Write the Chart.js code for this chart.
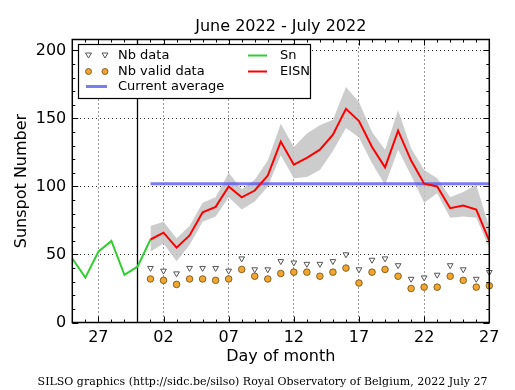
<!DOCTYPE html>
<html>
<head>
<meta charset="utf-8">
<title>Sunspot Number June 2022 - July 2022</title>
<script src="https://cdn.jsdelivr.net/npm/chart.js@4.4.0/dist/chart.umd.min.js"></script>
<style>
    html, body { margin: 0; padding: 0; background: #fff; }
    #wrap { width: 515px; height: 390px; position: relative; }
</style>
</head>
<body>
<div id="wrap"><canvas id="sunspot-chart"></canvas></div>
<script>
// x categories: June 25 .. July 27, 2022
const dayLabels = ['25', '26', '27', '28', '29', '30',
    '01', '02', '03', '04', '05', '06', '07', '08', '09', '10',
    '11', '12', '13', '14', '15', '16', '17', '18', '19', '20',
    '21', '22', '23', '24', '25', '26', '27'];
const monthBoundary = 5;          // index of June 30
const juneGap = [null, null, null, null, null, null];  // June 25-30 have no EISN

// Sn (green), June 25 .. July 1
const snValues = [47, 33, 52, 60, 35, 41, 61];

// EISN, July 1 .. July 27
const eisnValues = [61, 66, 55, 64, 81, 85, 100, 92, 97, 108, 133, 116, 121, 127, 138,
    157, 148, 129, 114, 141, 119, 102, 100, 84, 86, 83, 60];
const eisnLower = [52, 58, 45, 57, 74, 78, 92, 83, 89, 100, 123, 106, 107, 112, 126,
    143, 136, 117, 101, 127, 108, 88, 95, 77, 78, 77, 55];
const eisnUpper = [71, 74, 62, 71, 88, 92, 110, 98, 105, 119, 146, 129, 139, 145, 149,
    173, 162, 140, 127, 156, 128, 112, 106, 92, 96, 101, 70];

// number of stations, July 1 .. July 27
const nbData = [40, 38, 36, 40, 40, 40, 38, 47, 39, 39, 45, 44, 43, 43, 45,
    50, 39, 46, 47, 42, 32, 33, 35, 42, 39, 32, 37];
const nbValid = [32, 31, 28, 32, 32, 31, 32, 39, 34, 32, 36, 37, 37, 34, 37,
    40, 29, 37, 39, 34, 25, 26, 26, 34, 31, 26, 27];

const currentAverage = 102;
const yTickLabels = [0, 50, 100, 150, 200];

const FONT = "'DejaVu Sans', sans-serif";

function julySeries(values) {
    return juneGap.concat(values);
}

function isMajorDay(i) {
    return i % 5 === 2;
}

// matplotlib-like inward ticks on all four sides, frame, month boundary
const framePlugin = {
    id: 'frame',
    beforeDatasetsDraw(chart) {
        const { ctx, chartArea: a, scales: { x } } = chart;
        const bx = Math.round(x.getPixelForValue(monthBoundary)) + 0.5;
        ctx.save();
        ctx.strokeStyle = '#000';
        ctx.lineWidth = 1.3;
        ctx.beginPath();
        ctx.moveTo(bx, a.top);
        ctx.lineTo(bx, a.bottom);
        ctx.stroke();
        ctx.restore();
    },
    afterDraw(chart) {
        const { ctx, chartArea: a, scales: { x, y } } = chart;
        ctx.save();
        ctx.strokeStyle = '#000';
        ctx.lineWidth = 1;
        ctx.beginPath();
        for (let i = 0; i < dayLabels.length; i++) {
            const px = Math.round(x.getPixelForValue(i)) + 0.5;
            const len = isMajorDay(i) ? 6 : 3;
            ctx.moveTo(px, a.bottom); ctx.lineTo(px, a.bottom - len);
            ctx.moveTo(px, a.top); ctx.lineTo(px, a.top + len);
        }
        for (let v = 0; v <= 200; v += 10) {
            const py = Math.round(y.getPixelForValue(v)) + 0.5;
            const len = v % 50 === 0 ? 6 : 3;
            ctx.moveTo(a.left, py); ctx.lineTo(a.left + len, py);
            ctx.moveTo(a.right, py); ctx.lineTo(a.right - len, py);
        }
        ctx.stroke();

        ctx.lineWidth = 1.5;
        ctx.strokeRect(a.left, a.top, a.right - a.left, a.bottom - a.top);

        // footer
        ctx.fillStyle = '#000';
        ctx.font = "11px 'DejaVu Serif', serif";
        ctx.textAlign = 'center';
        ctx.textBaseline = 'middle';
        ctx.fillText('SILSO graphics (http://sidc.be/silso) Royal Observatory of Belgium, 2022 July 27', 262.5, 382);
        ctx.restore();
    }
};

// two column legend in the upper left corner
const legendPlugin = {
    id: 'siloLegend',
    afterDraw(chart) {
        const { ctx } = chart;
        ctx.save();
        ctx.fillStyle = '#fff';
        ctx.fillRect(78.5, 44.5, 232, 54);
        ctx.strokeStyle = '#000';
        ctx.lineWidth = 1.2;
        ctx.strokeRect(78.5, 44.5, 232, 54);

        // triangles
        ctx.fillStyle = '#fff';
        ctx.strokeStyle = '#555';
        ctx.lineWidth = 1;
        [88.5, 105].forEach(cx => {
            ctx.beginPath();
            ctx.moveTo(cx - 3, 53);
            ctx.lineTo(cx + 3, 53);
            ctx.lineTo(cx, 58);
            ctx.closePath();
            ctx.fill();
            ctx.stroke();
        });
        // circles
        ctx.fillStyle = '#f2a630';
        ctx.strokeStyle = '#6b4a10';
        ctx.lineWidth = 0.8;
        [88.5, 105].forEach(cx => {
            ctx.beginPath();
            ctx.arc(cx, 71.5, 3, 0, Math.PI * 2);
            ctx.fill();
            ctx.stroke();
        });
        // lines
        const line = (x1, x2, yy, color, w) => {
            ctx.strokeStyle = color;
            ctx.lineWidth = w;
            ctx.beginPath();
            ctx.moveTo(x1, yy);
            ctx.lineTo(x2, yy);
            ctx.stroke();
        };
        line(86, 107, 86.5, 'rgba(90,90,240,0.8)', 3);
        line(248, 267, 55.5, '#33cc33', 2);
        line(248, 267, 71.5, '#ff0000', 2);

        ctx.fillStyle = '#000';
        ctx.font = '13px ' + FONT;
        ctx.textBaseline = 'middle';
        ctx.textAlign = 'left';
        ctx.fillText('Nb data', 118, 55.5);
        ctx.fillText('Nb valid data', 118, 71.5);
        ctx.fillText('Current average', 118, 87);
        ctx.fillText('Sn', 280, 55.5);
        ctx.fillText('EISN', 280, 71.5);
        ctx.restore();
    }
};

const ctx = document.getElementById('sunspot-chart');

new Chart(ctx, {
    type: 'line',
    data: {
        labels: dayLabels,
        datasets: [
            {
                label: 'Nb data',
                data: julySeries(nbData),
                showLine: false,
                pointStyle: 'triangle',
                rotation: 180,
                pointRadius: 3.3,
                backgroundColor: '#fff',
                borderColor: '#555',
                pointBorderWidth: 1,
                order: 0
            },
            {
                label: 'Nb valid data',
                data: julySeries(nbValid),
                showLine: false,
                pointStyle: 'circle',
                pointRadius: 3.3,
                backgroundColor: '#f2a630',
                borderColor: '#6b4a10',
                pointBorderWidth: 0.8,
                order: 0
            },
            {
                label: 'Current average',
                data: julySeries(eisnValues.map(() => currentAverage)),
                borderColor: 'rgba(90,90,240,0.8)',
                borderWidth: 3,
                pointRadius: 0,
                order: 2
            },
            {
                label: 'EISN',
                data: julySeries(eisnValues),
                borderColor: '#ff0000',
                borderWidth: 2,
                pointRadius: 0,
                tension: 0,
                order: 1
            },
            {
                label: 'Sn',
                data: snValues,
                borderColor: '#33cc33',
                borderWidth: 2,
                pointRadius: 0,
                tension: 0,
                order: 1
            },
            {
                label: 'lower',
                data: julySeries(eisnLower),
                borderWidth: 0,
                borderColor: 'transparent',
                pointRadius: 0,
                fill: false,
                order: 5
            },
            {
                label: 'upper',
                data: julySeries(eisnUpper),
                borderWidth: 0,
                borderColor: 'transparent',
                backgroundColor: 'rgba(195,195,195,0.85)',
                pointRadius: 0,
                fill: '-1',
                order: 5
            }
        ]
    },
    options: {
        responsive: true,
        maintainAspectRatio: false,
        animation: false,
        layout: {
            padding: { left: 0, right: 25.7, top: 0, bottom: 0 }
        },
        plugins: {
            legend: { display: false },
            tooltip: { enabled: false },
            title: {
                display: true,
                text: 'June 2022 - July 2022',
                fullSize: false,
                color: '#000',
                font: { family: FONT, size: 16, weight: 'normal' },
                padding: { top: 17.4, bottom: 2.9 }
            }
        },
        scales: {
            x: {
                type: 'category',
                offset: false,
                border: { display: false, dash: [1, 3] },
                grid: {
                    color: (c) => isMajorDay(c.index) ? '#000' : 'transparent',
                    lineWidth: 0.8,
                    drawTicks: false
                },
                ticks: {
                    autoSkip: false,
                    maxRotation: 0,
                    padding: 6,
                    color: '#000',
                    font: { family: FONT, size: 16 },
                    callback: function(value, index) {
                        return isMajorDay(index) ? dayLabels[index] : '';
                    }
                },
                title: {
                    display: true,
                    text: 'Day of month',
                    color: '#000',
                    font: { family: FONT, size: 16 },
                    padding: { top: 0, bottom: 23.4 }
                },
                afterFit: (scale) => { scale.height = 67.5; }
            },
            y: {
                min: 0,
                max: 208,
                border: { display: false, dash: [1, 3] },
                grid: {
                    color: '#000',
                    lineWidth: 0.8,
                    drawTicks: false
                },
                ticks: {
                    padding: 6,
                    color: '#000',
                    font: { family: FONT, size: 16 }
                },
                afterBuildTicks: (scale) => {
                    scale.ticks = yTickLabels.map(v => ({ value: v }));
                },
                title: {
                    display: true,
                    text: 'Sunspot Number',
                    color: '#000',
                    font: { family: FONT, size: 16 },
                    padding: { top: 12.4, bottom: 0 }
                },
                afterFit: (scale) => { scale.width = 72.3; }
            }
        }
    },
    plugins: [framePlugin, legendPlugin]
});
</script>
</body>
</html>
